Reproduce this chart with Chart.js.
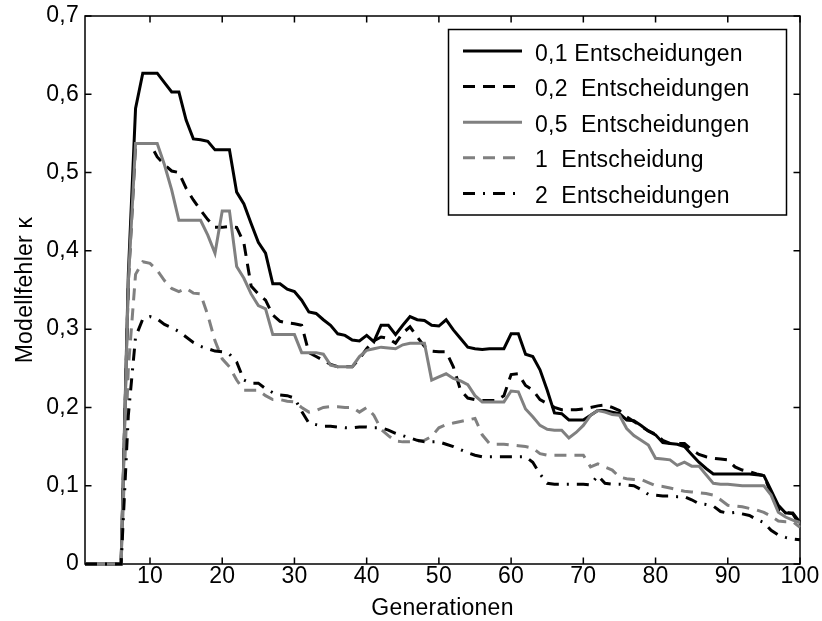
<!DOCTYPE html>
<html>
<head>
<meta charset="utf-8">
<title>Modellfehler</title>
<script src="https://cdn.jsdelivr.net/npm/chart.js@4/dist/chart.umd.min.js"></script>
<style>
  html, body { margin: 0; padding: 0; background: #fff; }
  canvas { display: block; }
</style>
</head>
<body>
<canvas id="errorChart" width="822" height="621"></canvas>
<script>
// x axis: generation number 1..100
const generations = Array.from({ length: 100 }, (_, i) => i + 1);

const legendLabels = [
  "0,1 Entscheidungen",
  "0,2  Entscheidungen",
  "0,5  Entscheidungen",
  "1  Entscheidung",
  "2  Entscheidungen",
];

const err01 = [
  0, 0, 0, 0, 0, 0, 0.37, 0.582, 0.627, 0.627,
  0.627, 0.615, 0.603, 0.603, 0.567, 0.543, 0.542, 0.54, 0.529, 0.529,
  0.529, 0.475, 0.46, 0.435, 0.411, 0.397, 0.358, 0.358, 0.351, 0.348,
  0.337, 0.322, 0.32, 0.312, 0.305, 0.294, 0.292, 0.286, 0.285, 0.292,
  0.284, 0.305, 0.305, 0.293, 0.305, 0.316, 0.312, 0.311, 0.305, 0.304,
  0.312, 0.299, 0.288, 0.277, 0.275, 0.274, 0.275, 0.275, 0.275, 0.294,
  0.294, 0.268, 0.265, 0.248, 0.222, 0.193, 0.192, 0.184, 0.184, 0.184,
  0.19, 0.196, 0.196, 0.194, 0.192, 0.184, 0.183, 0.177, 0.17, 0.165,
  0.155, 0.154, 0.153, 0.15, 0.14, 0.13, 0.122, 0.115, 0.115, 0.115,
  0.115, 0.115, 0.115, 0.114, 0.113, 0.094, 0.075, 0.065, 0.065, 0.053,
];

const err02 = [
  0, 0, 0, 0, 0, 0, 0.36, 0.537, 0.537, 0.537,
  0.52, 0.51, 0.502, 0.5, 0.48, 0.465, 0.452, 0.44, 0.43, 0.43,
  0.431, 0.43, 0.41, 0.355, 0.345, 0.337, 0.318, 0.31, 0.308, 0.307,
  0.305, 0.27, 0.265, 0.26, 0.255, 0.252, 0.252, 0.252, 0.262, 0.275,
  0.285, 0.29, 0.288, 0.282, 0.295, 0.303, 0.29, 0.278, 0.272, 0.271,
  0.271, 0.252, 0.222, 0.212, 0.21, 0.209, 0.209, 0.209, 0.215, 0.242,
  0.243, 0.228, 0.222, 0.21, 0.205, 0.2, 0.197, 0.197, 0.197, 0.198,
  0.2, 0.202, 0.203, 0.2, 0.196, 0.188, 0.182, 0.176, 0.17, 0.166,
  0.158, 0.154, 0.154, 0.154, 0.146, 0.14, 0.137, 0.135, 0.134, 0.133,
  0.124, 0.12, 0.118, 0.115, 0.113, 0.09, 0.07, 0.066, 0.064, 0.05,
];

const err05 = [
  0, 0, 0, 0, 0, 0, 0.36, 0.537, 0.537, 0.537,
  0.537, 0.51, 0.478, 0.439, 0.439, 0.439, 0.439, 0.42, 0.397, 0.451,
  0.451, 0.38, 0.365, 0.345, 0.33, 0.326, 0.293, 0.293, 0.293, 0.293,
  0.27, 0.27, 0.27, 0.268, 0.254, 0.252, 0.252, 0.252, 0.265, 0.273,
  0.275, 0.277, 0.276, 0.275, 0.28, 0.282, 0.282, 0.282, 0.235, 0.239,
  0.243, 0.237, 0.234, 0.229, 0.215, 0.207, 0.207, 0.207, 0.207, 0.221,
  0.22, 0.198, 0.188, 0.177, 0.172, 0.171, 0.171, 0.161, 0.168, 0.177,
  0.19, 0.196, 0.194, 0.191, 0.19, 0.173, 0.164, 0.158, 0.152, 0.135,
  0.134, 0.133, 0.126, 0.13, 0.125, 0.125, 0.114, 0.103, 0.102, 0.102,
  0.101, 0.1, 0.1, 0.1, 0.1, 0.088, 0.066, 0.06, 0.056, 0.053,
];

const err1 = [
  0, 0, 0, 0, 0, 0, 0.25, 0.37, 0.386, 0.384,
  0.375, 0.362, 0.352, 0.348, 0.352, 0.346, 0.345, 0.318, 0.285, 0.262,
  0.252, 0.235, 0.222, 0.222, 0.222, 0.215, 0.21, 0.21, 0.208, 0.207,
  0.2, 0.194, 0.196, 0.2, 0.201, 0.201, 0.2, 0.2, 0.194, 0.2,
  0.19, 0.172, 0.164, 0.157, 0.156, 0.156, 0.157, 0.158, 0.163, 0.174,
  0.178, 0.18, 0.182, 0.184, 0.186, 0.165, 0.154, 0.153, 0.153, 0.152,
  0.151, 0.15, 0.148, 0.141, 0.139, 0.139, 0.139, 0.139, 0.139, 0.139,
  0.124, 0.128, 0.124, 0.12, 0.111, 0.109, 0.108, 0.108, 0.104, 0.1,
  0.099, 0.097, 0.095, 0.093, 0.092, 0.091, 0.09, 0.088, 0.082, 0.075,
  0.074, 0.073, 0.071, 0.069, 0.066, 0.061, 0.055, 0.054, 0.054, 0.047,
];

const err2 = [
  0, 0, 0, 0, 0, 0, 0.19, 0.29, 0.313, 0.316,
  0.313, 0.306, 0.302, 0.297, 0.29, 0.283, 0.278, 0.275, 0.272, 0.271,
  0.268, 0.258, 0.235, 0.231, 0.231, 0.224, 0.219, 0.216, 0.215, 0.212,
  0.195, 0.18, 0.178, 0.176, 0.176, 0.175, 0.174, 0.174, 0.175, 0.175,
  0.174, 0.174, 0.171, 0.167, 0.164, 0.161, 0.158, 0.156, 0.156, 0.156,
  0.153, 0.15, 0.146, 0.142, 0.139, 0.137, 0.137, 0.137, 0.137, 0.137,
  0.137, 0.137, 0.13, 0.115, 0.103, 0.102, 0.102, 0.102, 0.102, 0.102,
  0.101, 0.113, 0.103, 0.102, 0.102, 0.101, 0.1, 0.095, 0.089, 0.088,
  0.087, 0.087, 0.086, 0.086, 0.082, 0.077, 0.076, 0.074, 0.067, 0.065,
  0.066, 0.064, 0.062, 0.057, 0.053, 0.043, 0.037, 0.034, 0.032, 0.031,
];

const xTickValues = [10, 20, 30, 40, 50, 60, 70, 80, 90, 100];
const yTickValues = [0, 0.1, 0.2, 0.3, 0.4, 0.5, 0.6, 0.7];
const yTickLabels = ["0", "0,1", "0,2", "0,3", "0,4", "0,5", "0,6", "0,7"];
const xTitle = "Generationen";
const yTitle = "Modellfehler κ";

const FONT = '23px "Liberation Sans", Arial, Helvetica, sans-serif';
const SPACING = "0.25px";
const TICK = 6.5;
const GRAY = "#808080";
const DASH = [12, 8];
const DASH_DOT = [12, 8, 2, 8];

// box with inward ticks on all four sides, tick labels and axis titles
const axesFrame = {
  id: "axesFrame",
  beforeDatasetsDraw(chart) {
    const { ctx, chartArea: a } = chart;
    const x = chart.scales.x;
    const y = chart.scales.y;
    ctx.save();
    ctx.strokeStyle = "#000";
    ctx.lineWidth = 1.5;
    ctx.strokeRect(a.left, a.top, a.right - a.left, a.bottom - a.top);
    ctx.beginPath();
    xTickValues.forEach((v) => {
      const px = x.getPixelForValue(v);
      ctx.moveTo(px, a.bottom);
      ctx.lineTo(px, a.bottom - TICK);
      ctx.moveTo(px, a.top);
      ctx.lineTo(px, a.top + TICK);
    });
    yTickValues.forEach((v) => {
      const py = y.getPixelForValue(v);
      ctx.moveTo(a.left, py);
      ctx.lineTo(a.left + TICK, py);
      ctx.moveTo(a.right, py);
      ctx.lineTo(a.right - TICK, py);
    });
    ctx.stroke();

    ctx.fillStyle = "#000";
    ctx.font = FONT;
    ctx.letterSpacing = SPACING;
    ctx.textAlign = "center";
    ctx.textBaseline = "top";
    xTickValues.forEach((v) => {
      ctx.fillText(String(v), x.getPixelForValue(v), a.bottom + 1);
    });
    ctx.textAlign = "right";
    ctx.textBaseline = "middle";
    yTickValues.forEach((v, i) => {
      ctx.fillText(yTickLabels[i], a.left - 6, y.getPixelForValue(v));
    });

    ctx.textAlign = "center";
    ctx.textBaseline = "alphabetic";
    ctx.fillText(xTitle, (a.left + a.right) / 2, 615);
    ctx.translate(31.5, (a.top + a.bottom) / 2);
    ctx.rotate(-Math.PI / 2);
    ctx.fillText(yTitle, 0, 0);
    ctx.restore();
  },
};

// boxed legend in the upper right corner
const boxLegend = {
  id: "boxLegend",
  afterDatasetsDraw(chart) {
    const { ctx } = chart;
    const left = 448.5, top = 29.5, width = 338, height = 185.5;
    const rowStart = 51, rowStep = 35.6;
    ctx.save();
    ctx.fillStyle = "#fff";
    ctx.fillRect(left, top, width, height);
    ctx.strokeStyle = "#000";
    ctx.lineWidth = 1.5;
    ctx.strokeRect(left, top, width, height);
    ctx.font = FONT;
    ctx.letterSpacing = SPACING;
    ctx.textAlign = "left";
    ctx.textBaseline = "alphabetic";
    chart.data.datasets.forEach((ds, i) => {
      const ly = rowStart + i * rowStep;
      ctx.beginPath();
      ctx.strokeStyle = ds.borderColor;
      ctx.lineWidth = ds.borderWidth;
      ctx.setLineDash(ds.borderDash || []);
      ctx.moveTo(463, ly);
      ctx.lineTo(522, ly);
      ctx.stroke();
      ctx.setLineDash([]);
      ctx.fillStyle = "#000";
      ctx.fillText(ds.label, 535, ly + 9.5);
    });
    ctx.restore();
  },
};

const series = [
  { label: legendLabels[0], data: err01, color: "#000", dash: [], order: 5 },
  { label: legendLabels[1], data: err02, color: "#000", dash: DASH, order: 4 },
  { label: legendLabels[2], data: err05, color: GRAY, dash: [], order: 3 },
  { label: legendLabels[3], data: err1, color: GRAY, dash: DASH, order: 2 },
  { label: legendLabels[4], data: err2, color: "#000", dash: DASH_DOT, order: 1 },
];

new Chart(document.getElementById("errorChart"), {
  type: "line",
  data: {
    labels: generations,
    datasets: series.map((s) => ({
      label: s.label,
      data: s.data,
      borderColor: s.color,
      borderDash: s.dash,
      borderWidth: 3,
      order: s.order,
      pointRadius: 0,
      tension: 0,
      fill: false,
      clip: false,
    })),
  },
  options: {
    responsive: false,
    animation: false,
    devicePixelRatio: 1,
    events: [],
    layout: { padding: { left: 85, right: 22, top: 16, bottom: 57 } },
    plugins: { legend: { display: false }, tooltip: { enabled: false } },
    scales: {
      x: { type: "linear", min: 1, max: 100, display: false },
      y: { type: "linear", min: 0, max: 0.7, display: false },
    },
  },
  plugins: [axesFrame, boxLegend],
});
</script>
</body>
</html>
